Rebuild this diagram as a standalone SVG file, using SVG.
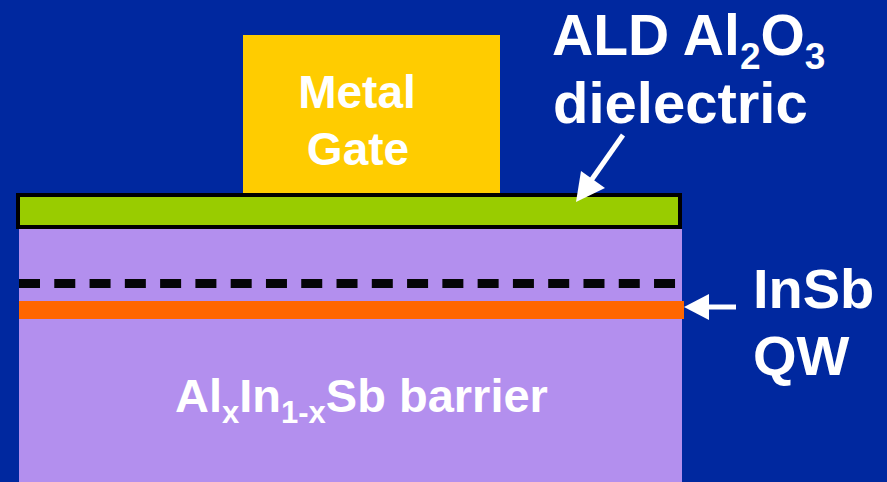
<svg xmlns="http://www.w3.org/2000/svg" width="887" height="482" viewBox="0 0 887 482">
<style>
.t{font-family:"Liberation Sans",Arial,sans-serif;font-weight:bold;fill:#FFFFFF}
.arr{stroke:#FFFFFF;stroke-width:5;fill:none}
.head{fill:#FFFFFF}
</style>
<rect x="0" y="0" width="887" height="482" fill="#00289F"/>
<g id="barrier">
<rect x="19" y="229" width="663" height="253" fill="#B38FEE"/>
<text class="t" x="175" y="412" font-size="47">Al<tspan font-size="31" dy="11">x</tspan><tspan dy="-11">In</tspan><tspan font-size="31" dy="11">1-x</tspan><tspan dy="-11">Sb barrier</tspan></text>
</g>
<g id="delta-doping">
<line x1="19" y1="283.5" x2="676" y2="283.5" stroke="#050508" stroke-width="9" stroke-dasharray="21 14.28"/>
</g>
<g id="quantum-well">
<rect x="19" y="301" width="665" height="18" fill="#FF6600"/>
</g>
<g id="gate">
<rect x="243" y="35" width="257" height="160" fill="#FFCC00"/>
<text class="t" x="357" y="108" font-size="46" text-anchor="middle">Metal</text>
<text class="t" x="358" y="165" font-size="46" text-anchor="middle">Gate</text>
</g>
<g id="dielectric">
<rect x="18" y="195" width="662" height="32" fill="#99CC00" stroke="#000000" stroke-width="4"/>
</g>
<g id="label-ald">
<text class="t" x="552" y="55" font-size="57">ALD Al<tspan font-size="37" dy="14">2</tspan><tspan dy="-14">O</tspan><tspan font-size="37" dy="14">3</tspan></text>
<text class="t" x="553" y="123" font-size="58">dielectric</text>
</g>
<g id="label-qw">
<text class="t" x="753" y="308" font-size="56">InSb</text>
<text class="t" x="753" y="375" font-size="56">QW</text>
</g>
<g id="connectors">
<line class="arr" x1="623" y1="135" x2="590" y2="182"/>
<polygon class="head" points="576,202 581,171 605,188"/>
<line class="arr" x1="736" y1="307" x2="705" y2="307"/>
<polygon class="head" points="684,307 709,294 709,320"/>
</g>
</svg>
